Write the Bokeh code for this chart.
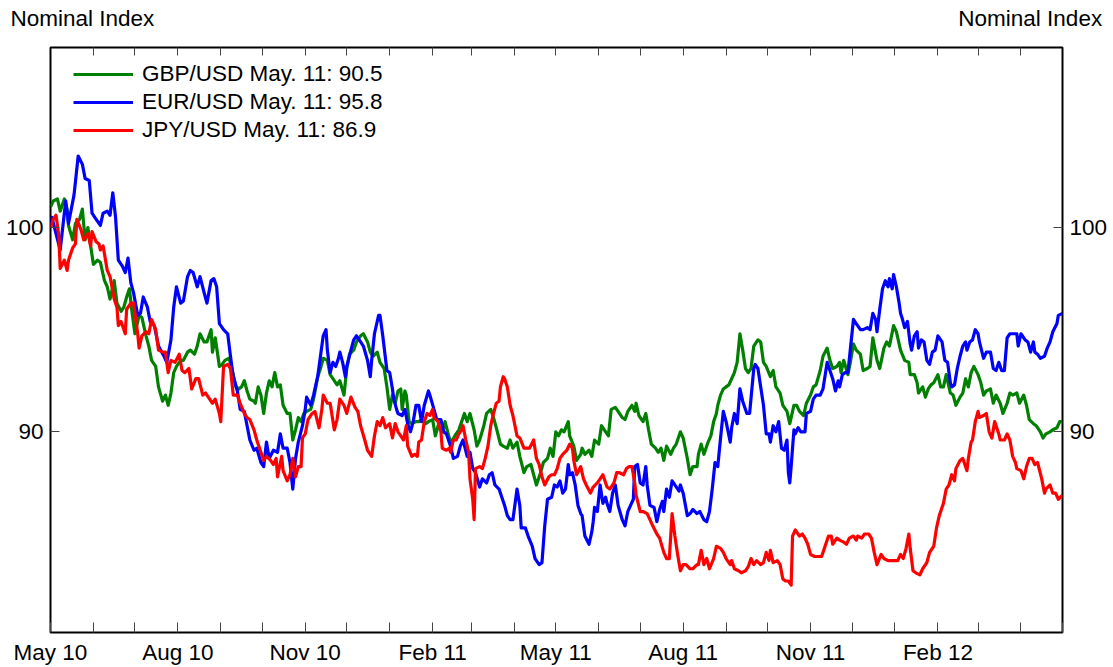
import pandas as pd
from bokeh.plotting import figure
from bokeh.models import (Range1d, LinearAxis, FixedTicker, Legend, LegendItem,
                          ColumnDataSource)
from bokeh.embed import file_html
from bokeh.resources import INLINE

FONT = "Liberation Sans"
FS = "22.5px"

start_date = pd.Timestamp("2010-05-11")
end_date = pd.Timestamp("2012-05-11")
x_tick_labels = ["May 10", "Aug 10", "Nov 10", "Feb 11", "May 11", "Aug 11", "Nov 11", "Feb 12"]
y_ticks = [90, 100]
y_low, y_high = 80.18, 108.81
header_text = "Nominal Index"
header_days = [23, 707.7]   # centre of the left / right header text on the top axis

series_names = ["GBP/USD May. 11: 90.5", "EUR/USD May. 11: 95.8", "JPY/USD May. 11: 86.9"]
series_colors = ["#008000", "#0000ff", "#ff0000"]

# (days since 2010-05-11, nominal index)
gbp = [
(0,101.0),(2,101.3),(5,101.4),(7,100.8),(10,101.4),(12,100.9),(13,100.1),(16,99.4),(18,100.2),(21,100.4),(23,100.9),(25,99.4),(27,100.0),(29,99.1),(31,98.2),(34,98.4),(36,98.3),(39,97.4),(41,97.1),(43,96.5),(46,97.4),(48,96.3),(51,95.9),(53,96.1),(55,96.6),(57,97.0),(59,95.8),(61,94.8),(64,95.7),(66,95.6),(69,94.7),(71,94.2),(73,93.5),(76,93.2),(78,92.2),(81,91.5),(83,91.8),(85,91.3),(87,91.9),(89,92.9),(91,93.2),(94,93.5),(96,93.5),(99,93.9),(101,94.0),(104,93.8),(106,94.2),(108,94.8),(111,94.4),(113,94.4),(116,95.0),(117,93.9),(119,94.6),(122,93.2),
(124,93.3),(126,93.5),(129,93.6),(131,93.1),(134,92.2),(136,92.1),(138,92.2),(140,92.5),(142,92.0),(144,91.6),(147,91.5),(148,91.4),(150,92.2),(152,91.8),(154,90.9),(156,91.9),(158,92.5),(160,92.2),(162,92.9),(164,92.2),(166,92.3),(168,91.3),(171,90.9),(173,90.9),(175,89.6),(177,90.1),(179,90.7),(181,90.5),(183,90.9),(185,91.0),(188,91.1),(190,91.6),(193,92.7),(195,93.1),(197,93.6),(200,93.5),(202,92.8),(204,92.6),(207,92.3),(209,92.5),(212,91.8),(214,93.1),(216,93.8),(219,94.0),(221,94.4),(224,94.7),(226,94.8),(229,94.4),(231,93.9),(233,93.7),(236,93.9),(238,93.4),(241,93.1),(243,92.2),
(245,91.1),(247,91.8),(249,91.4),(251,92.0),(253,92.1),(254,91.1),(256,92.0),(257,91.8),(259,90.5),(261,90.4),(264,90.5),(266,90.5),(268,90.6),(271,90.4),(273,90.5),(276,90.6),(278,89.8),(280,90.3),(283,90.0),(285,90.5),(288,89.7),(290,89.5),(292,89.8),(295,90.1),(297,90.5),(299,90.9),(301,90.5),(303,90.9),(306,90.1),(308,89.3),(310,89.6),(313,90.3),(315,90.9),(318,91.1),(320,90.7),(322,90.2),(325,89.4),(327,89.3),(330,89.2),(332,89.6),(334,89.2),(337,89.5),(339,88.8),(342,88.0),(344,88.3),(347,88.4),(349,87.9),(351,87.4),(354,88.0),(356,88.5),(359,88.7),(361,89.2),(363,88.8),(365,90.0),(367,89.8),
(369,90.1),(371,90.0),(374,90.5),(375,89.8),(378,89.3),(380,88.6),(383,88.9),(384,89.2),(386,88.9),(389,89.1),(391,88.8),(393,89.6),(396,89.4),(398,90.3),(401,90.0),(403,89.8),(405,91.1),(408,91.2),(410,91.0),(413,90.7),(415,90.6),(417,91.0),(420,91.3),(422,91.0),(423,91.4),(425,90.8),(428,90.5),(430,90.9),(432,90.1),(434,89.4),(437,89.2),(439,89.0),(441,89.2),(443,88.6),(445,89.3),(448,88.9),(450,89.2),(452,89.4),(455,90.0),(457,89.7),(460,88.7),(462,87.9),(464,88.3),(467,88.3),(468,88.9),(470,89.4),(472,88.9),(475,89.5),(477,89.8),(479,90.5),(481,90.9),(482,91.3),(484,91.8),(486,92.1),(488,92.2),
(490,92.3),(492,92.6),(494,92.9),(496,93.4),(498,94.8),(500,94.0),(502,93.1),(504,92.9),(506,93.1),(508,94.2),(511,94.5),(513,94.4),(515,93.4),(517,93.2),(520,92.7),(522,93.0),(524,92.2),(527,91.9),(529,91.3),(532,91.0),(534,90.4),(537,91.3),(539,91.3),(541,91.0),(544,90.8),(546,91.4),(549,91.8),(551,92.2),(553,92.3),(556,93.0),(558,93.7),(561,94.1),(563,93.5),(565,93.1),(568,93.2),(570,93.4),(571,92.9),(573,93.5),(576,92.8),(578,93.5),(580,94.3),(582,94.0),(585,93.8),(587,93.0),(590,93.1),(592,93.2),(594,94.6),(597,93.5),(599,93.1),(602,94.1),(604,94.4),(606,94.2),(609,95.2),(611,94.9),(614,94.0),
(617,93.5),(620,93.4),(621,92.8),(624,92.8),(626,92.4),(627,91.9),(630,92.2),(632,91.7),(634,92.1),(636,92.3),(638,92.4),(641,92.8),(643,92.2),(645,92.2),(647,92.8),(650,91.9),(652,91.8),(654,91.3),(657,91.7),(659,91.9),(661,92.6),(663,92.2),(665,92.9),(667,93.2),(670,92.8),(672,92.4),(674,91.8),(676,92.0),(679,92.1),(681,91.4),(683,91.8),(686,91.4),(688,90.9),(691,91.4),(693,91.9),(695,91.8),(698,91.9),(700,91.4),(703,91.8),(705,91.3),(707,90.6),(710,90.4),(712,90.3),(715,90.0),(717,89.7),(719,89.9),(722,90.0),(724,90.1),(727,90.2),(729,90.5),(731,90.5),
]

eur = [
(0,100.1),(1,100.5),(7,98.9),(11,101.3),(13,100.2),(17,101.6),(20,103.5),(23,103.1),(25,102.4),(28,102.3),(30,100.7),(32,100.5),(36,100.1),(38,100.7),(41,100.8),(43,100.6),(45,101.7),(47,100.5),(49,98.4),(52,98.1),(54,97.8),(56,98.5),(58,97.3),(60,96.8),(63,95.7),(65,95.8),(67,96.6),(70,96.1),(72,95.4),(75,95.2),(78,94.2),(82,93.7),(84,93.4),(87,94.5),(89,96.1),(91,97.1),(94,96.3),(96,96.4),(99,97.6),(101,97.9),(103,97.8),(106,97.1),(108,97.6),(111,96.8),(113,96.3),(116,97.4),(118,97.5),(120,97.1),(122,95.3),
(125,95.0),(128,94.8),(130,93.7),(132,92.7),(135,92.0),(137,91.1),(140,91.0),(142,90.3),(144,89.6),(147,89.1),(149,89.2),(152,88.5),(154,88.3),(156,89.5),(158,88.7),(161,89.1),(164,89.0),(166,89.9),(168,89.2),(171,89.2),(173,88.5),(175,87.2),(177,88.7),(179,89.5),(182,90.3),(184,91.1),(185,91.7),(188,91.3),(190,91.8),(193,92.7),(195,93.7),(197,94.7),(199,95.0),(200,94.0),(202,92.9),(204,93.4),(206,93.2),(208,93.6),(209,93.9),(211,93.4),(213,92.7),(214,93.2),(217,94.0),(219,94.5),(221,94.7),(224,94.4),(226,94.2),(229,93.5),(231,92.7),(232,93.5),(234,94.8),(237,95.7),(238,95.7),(240,94.7),
(243,93.0),(245,92.9),(247,92.1),(248,91.6),(250,91.1),(251,90.9),(254,90.8),(256,91.1),(258,90.4),(260,90.0),(262,90.5),(264,91.3),(266,91.3),(268,90.5),(270,91.3),(273,92.0),(274,91.8),(277,91.1),(279,90.6),(282,90.6),(284,90.0),(286,89.9),(289,89.3),(291,88.7),(294,88.8),(296,89.3),(298,89.6),(301,88.8),(303,89.0),(305,88.2),(307,88.0),(310,87.3),(312,87.7),(315,87.5),(317,87.9),(319,88.0),(321,87.4),(324,87.2),(326,86.8),(328,86.4),(330,85.9),(332,85.7),(334,85.7),(337,87.2),(339,86.4),(340,85.3),(343,85.3),(345,84.9),(348,84.4),(350,83.8),(353,83.5),(355,83.6),(357,85.4),(359,86.7),(362,86.8),(364,87.4),
(366,87.3),(368,87.6),(370,87.0),(372,87.2),(374,88.4),(375,87.9),(377,88.0),(379,87.4),(381,86.4),(383,86.0),(384,85.9),(386,84.9),(389,84.5),(391,85.1),(392,85.6),(393,86.3),(395,86.1),(397,87.4),(399,86.5),(401,86.8),(402,86.5),(404,86.1),(406,87.0),(408,87.4),(410,86.4),(413,85.7),(415,85.4),(417,86.1),(419,86.4),(421,86.7),(422,88.3),(424,88.4),(426,87.5),(428,87.4),(430,88.3),(431,87.4),(433,86.4),(436,86.3),(438,85.6),(440,86.2),(442,86.6),(443,86.1),(445,87.2),(447,86.8),(449,87.6),(451,87.4),(454,87.1),(455,87.4),(457,87.0),(460,85.9),(462,86.0),(464,86.2),(467,86.0),(469,86.1),(472,85.7),(474,85.6),(476,86.1),(478,87.2),(480,88.5),(482,88.3),(484,89.7),(486,91.0),(488,90.5),
(491,89.5),(492,90.2),(494,90.9),(496,90.4),(498,92.1),(500,91.5),(503,90.9),(505,90.9),(508,93.1),(509,93.3),(511,93.1),(513,92.2),(515,91.3),(517,89.9),(519,89.9),(520,89.5),(522,90.3),(524,90.0),(526,90.5),(528,89.2),(530,89.1),(532,89.6),(533,88.0),(534,87.5),(535,88.3),(537,90.1),(538,89.9),(540,90.2),(542,90.0),(545,90.0),(546,90.9),(549,91.0),(551,91.6),(553,91.8),(556,91.8),(558,92.1),(561,93.4),(563,93.0),(565,92.6),(567,92.0),(569,92.5),(570,92.2),(572,92.8),(574,92.9),(576,92.9),(578,94.2),(580,95.5),(582,95.3),(585,95.0),(587,95.0),(590,95.1),(592,95.0),(594,95.8),(596,95.5),(597,94.9),(599,96.0),(601,97.0),(603,97.4),(605,97.1),(606,97.5),(608,97.0),(609,97.7),(611,97.1),(613,96.3),
(614,95.8),(615,95.6),(617,95.1),(619,95.4),(621,94.3),(622,94.0),(624,94.7),(626,94.9),(627,94.1),(629,94.5),(631,94.4),(633,93.5),(635,93.3),(637,93.9),(639,94.0),(641,94.7),(644,94.4),(646,93.5),(648,93.4),(650,92.4),(651,92.2),(653,92.3),(655,93.1),(657,93.7),(659,94.2),(661,94.4),(662,94.0),(664,94.4),(666,94.5),(668,95.0),(670,94.8),(671,94.4),(674,93.6),(676,93.9),(679,93.9),(681,93.1),(683,93.0),(685,93.4),(687,93.0),(689,93.0),(691,94.6),(693,94.8),(695,94.8),(698,94.8),(699,94.2),(701,94.8),(704,94.5),(706,94.4),(708,93.9),(710,94.4),(711,93.9),(713,93.8),(715,93.6),(718,93.7),(720,94.1),(722,94.4),(724,94.9),(727,95.3),(728,95.7),(731,95.8),
]

jpy = [
(0,100.0),(2,100.4),(4,100.6),(6,99.6),(7,98.0),(10,98.4),(12,97.9),(13,98.4),(16,99.0),(18,99.2),(19,100.4),(22,99.9),(24,99.4),(27,99.7),(29,99.1),(30,99.8),(33,99.3),(35,99.2),(36,98.9),(38,99.1),(41,97.9),(43,97.6),(46,96.5),(48,96.1),(49,95.2),(51,95.4),(54,94.8),(55,96.0),(58,96.3),(60,96.3),(63,94.8),(64,94.1),(66,94.7),(69,94.9),(71,94.8),(73,95.5),(76,95.0),(78,94.0),(81,93.9),(83,93.9),(85,92.9),(87,93.5),(90,93.4),(93,93.8),(95,93.0),(97,92.9),(100,93.1),(102,92.1),(105,92.6),(107,92.6),(110,91.8),(112,91.9),(114,91.7),(117,91.4),(119,91.6),(122,90.9),
(123,90.5),(125,93.2),(128,93.3),(130,93.1),(132,91.8),(135,91.8),(137,91.4),(140,90.9),(142,90.7),(144,90.6),(147,90.1),(149,89.6),(152,89.0),(154,88.6),(156,88.8),(159,88.6),(161,88.4),(163,88.7),(164,87.8),(167,88.8),(168,88.1),(171,87.6),(173,87.9),(175,88.7),(177,87.8),(179,88.3),(181,88.3),(182,89.7),(184,89.9),(186,90.6),(189,90.9),(191,91.0),(194,90.2),(196,91.1),(197,91.8),(200,91.4),(202,91.4),(205,90.1),(207,90.6),(209,91.6),(212,91.3),(214,90.9),(217,91.7),(220,91.2),(222,91.0),(224,90.3),(227,89.6),(229,89.1),(232,88.8),(234,89.8),(236,90.5),(238,90.3),(240,90.7),(242,90.2),
(245,90.4),(247,89.7),(249,90.4),(251,90.0),(253,89.8),(255,89.6),(257,90.3),(258,89.3),(261,88.8),(263,88.9),(265,88.8),(266,89.5),(268,89.6),(270,90.5),(272,90.9),(274,90.8),(276,91.1),(277,90.7),(280,90.5),(282,90.0),(283,89.2),(286,89.1),(288,89.2),(289,89.0),(291,89.6),(293,89.6),(295,89.9),(297,90.1),(298,90.3),(300,89.6),(302,89.0),(303,87.7),(305,86.7),(306,85.7),(307,88.2),(310,88.3),(312,88.2),(314,88.7),(316,89.3),(318,90.3),(320,90.9),(322,91.4),(324,91.5),(325,92.2),(327,92.7),(328,92.6),(330,92.2),(332,91.3),(334,90.8),(337,89.8),(339,89.7),(342,89.2),(344,89.2),(346,89.2),(349,89.6),(351,88.7),(353,88.4),(355,87.8),(357,87.4),(360,87.8),(362,87.9),(364,87.9),
(366,88.2),(368,88.7),(370,88.9),(373,89.1),(375,89.4),(377,89.2),(378,88.6),(380,87.9),(383,88.3),(385,87.7),(387,87.4),(390,87.0),(392,87.3),(395,87.5),(397,87.7),(399,87.9),(402,87.3),(404,87.2),(407,87.5),(409,88.0),(411,88.0),(414,87.9),(416,88.2),(418,88.3),(420,88.3),(422,87.5),(423,86.9),(426,86.1),(428,86.1),(431,86.0),(433,85.7),(435,85.4),(438,85.0),(440,84.8),(443,84.1),(445,83.8),(447,83.8),(449,86.0),(451,84.9),(453,84.0),(455,83.2),(457,83.5),(459,83.5),(462,83.3),(464,83.3),(467,83.5),(468,83.5),(470,84.2),(472,83.5),(474,83.8),(476,83.3),(479,83.8),(481,84.4),(484,84.3),(486,84.1),(488,83.8),(491,83.5),
(492,83.7),(494,83.3),(497,83.2),(499,83.1),(502,83.2),(504,83.4),(506,83.8),(508,83.5),(510,83.7),(513,83.5),(515,83.6),(517,84.1),(519,83.7),(520,84.2),(522,83.6),(525,83.7),(527,83.5),(529,82.8),(531,82.7),(533,82.7),(535,82.5),(536,84.9),(538,85.2),(541,84.9),(543,85.0),(545,84.8),(547,84.5),(549,84.0),(552,83.9),(555,83.9),(557,83.9),(559,84.3),(562,84.9),(564,84.9),(565,84.5),(568,84.8),(570,84.7),(573,84.6),(575,84.5),(577,84.8),(580,84.9),(582,84.7),(583,84.9),(586,84.8),(588,85.0),(591,85.0),(593,84.8),(595,84.1),(597,83.5),(600,84.0),(602,83.8),(605,83.7),(607,83.7),(609,83.7),
(612,83.7),(614,84.0),(616,83.8),(618,84.3),(620,85.0),(621,84.3),(623,83.2),(625,83.1),(628,83.0),(630,83.3),(633,83.6),(635,84.1),(638,84.4),(640,85.3),(642,85.9),(645,86.5),(647,87.2),(649,87.4),(651,87.9),(653,87.6),(654,88.2),(657,88.6),(659,88.7),(662,88.1),(663,88.7),(665,89.5),(666,89.6),(668,90.5),(670,91.0),(671,90.7),(674,90.8),(676,90.9),(678,90.0),(680,89.7),(682,90.5),(685,89.9),(686,89.6),(689,89.6),(691,89.9),(693,89.6),(695,88.8),(697,88.5),(698,88.2),(701,88.1),(703,87.7),(705,88.3),(707,88.7),(709,88.7),(711,88.4),(713,88.5),(716,87.7),(718,87.0),(719,87.2),(722,87.4),(724,87.0),(726,87.0),(728,86.7),(731,86.9),
]

span = (end_date - start_date).days
month_days = [(d - start_date).days for d in
              pd.date_range(start_date, end_date, freq=pd.DateOffset(months=1))]
major_days = month_days[0:3 * len(x_tick_labels):3]
minor_days = [d for d in month_days if d not in major_days]
inner_months = [d for d in month_days if 0 < d < span]
x_overrides = {d: lab for d, lab in zip(major_days, x_tick_labels)}
top_overrides = {d: header_text for d in header_days}

p = figure(width=1110, height=667, output_backend="svg", toolbar_location=None,
           x_range=Range1d(0, span), y_range=Range1d(y_low, y_high),
           x_axis_location=None, y_axis_location=None,
           min_border_left=50, min_border_right=47, min_border_top=47, min_border_bottom=33)
p.grid.visible = False
p.outline_line_color = "black"
p.outline_line_width = 2
p.background_fill_color = "white"
p.border_fill_color = "white"


def make_axis(ticker, standoff, overrides=None, tick_in=10, minor_in=10):
    ax = LinearAxis(ticker=ticker)
    ax.axis_line_color = None
    ax.major_tick_in = tick_in
    ax.major_tick_out = 0
    ax.minor_tick_in = minor_in
    ax.minor_tick_out = 0
    ax.major_tick_line_color = "#444444"
    ax.minor_tick_line_color = "#444444"
    ax.major_tick_line_width = 1
    ax.minor_tick_line_width = 1
    ax.major_label_text_font = FONT
    ax.major_label_text_font_size = FS
    ax.major_label_text_color = "black"
    ax.major_label_standoff = standoff
    if overrides:
        ax.major_label_overrides = overrides
    return ax


x_ticker = FixedTicker(ticks=major_days, minor_ticks=minor_days)
top_ticker = FixedTicker(ticks=header_days, minor_ticks=inner_months)
y_ticker = FixedTicker(ticks=y_ticks)

p.add_layout(make_axis(x_ticker, 7, x_overrides), "below")
p.add_layout(make_axis(top_ticker, 17, top_overrides, tick_in=0, minor_in=8), "above")
p.add_layout(make_axis(y_ticker, 7, None, 9, 0), "left")
p.add_layout(make_axis(y_ticker, 7, None, 9, 0), "right")

renderers = []
for data, color in zip([gbp, eur, jpy], series_colors):
    days, vals = zip(*data)
    src = ColumnDataSource(dict(x=list(days), y=list(vals)))
    r = p.line("x", "y", source=src, line_color=color, line_width=3.2, line_join="round")
    renderers.append(r)

legend = Legend(items=[LegendItem(label=n, renderers=[r]) for n, r in zip(series_names, renderers)],
                location=(23, 488), padding=0, spacing=0, margin=0,
                glyph_width=60, glyph_height=28, label_height=28, label_standoff=9,
                label_text_font=FONT, label_text_font_size=FS, label_text_color="black",
                border_line_color=None, background_fill_alpha=0)
p.add_layout(legend)

open("out.html", "w").write(file_html(p, INLINE))
